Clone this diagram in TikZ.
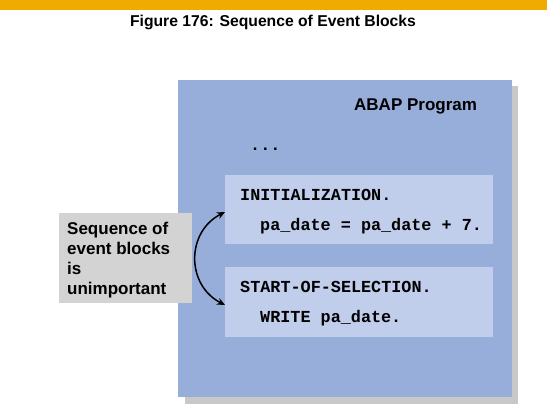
\documentclass[tikz,border=0pt]{standalone}
\usepackage{fontspec}
\setmainfont{Liberation Sans}
\newfontfamily\codefont{Liberation Mono}
\usetikzlibrary{arrows.meta}
\definecolor{sapbar}{RGB}{240,171,0}
\definecolor{progblue}{RGB}{151,173,218}
\definecolor{blocklight}{RGB}{192,205,235}
\definecolor{shadowgray}{RGB}{200,200,200}
\definecolor{notegray}{RGB}{211,211,211}
\tikzset{
  codetxt/.style={anchor=base west, inner sep=0pt, font=\codefont\bfseries\fontsize{16.8}{20}\selectfont},
  sanstxt/.style={inner sep=0pt, font=\bfseries\fontsize{17}{20.3}\selectfont},
  blockbox/.style={fill=blocklight, draw=none, inner sep=0pt},
}
\begin{document}
\begin{tikzpicture}[x=1pt,y=-1pt]
\useasboundingbox (0,0) rectangle (547,414);
\fill[white] (0,0) rectangle (547,414);
\fill[sapbar] (0,0) rectangle (547,10);
\node[anchor=base, inner sep=0pt, font=\bfseries\fontsize{15.7}{18}\selectfont] (title) at (273,27) {Figure 176: Sequence of Event Blocks};
% program box with shadow
\fill[shadowgray] (185,86) rectangle (518,404);
\node[fill=progblue, minimum width=334pt, minimum height=317pt, inner sep=0pt, anchor=north west] (prog) at (178,80) {};
\node[sanstxt, anchor=base west] (ptitle) at (354,111) {ABAP Program};
\node[codetxt] (dots) at (250,151) {...};
% blocks
\node[blockbox, minimum width=268pt, minimum height=69pt, anchor=north west] (b1) at (225,175) {};
\node[blockbox, minimum width=268pt, minimum height=70pt, anchor=north west] (b2) at (225,267) {};
\node[codetxt] (init) at (240,201) {INITIALIZATION.};
\node[codetxt] (calc) at (260,231) {pa\_date = pa\_date + 7.};
\node[codetxt] (sos) at (240,293) {START-OF-SELECTION.};
\node[codetxt] (wr) at (260,323) {WRITE pa\_date.};
% note
\node[fill=notegray, minimum width=133pt, minimum height=90pt, inner sep=0pt, anchor=north west] (note) at (59,213) {};
\node[sanstxt, anchor=base west, align=left] (notetxt) at (67,295) {Sequence of\\event blocks\\is\\unimportant};
% arrow
\coordinate (atop) at (225,212);
\coordinate (abot) at (225,305);
\draw[line width=1.5pt, {Stealth[length=8pt,width=7pt]}-{Stealth[length=8pt,width=7pt]}] (atop) .. controls (186,232) and (186,285) .. (abot);
\end{tikzpicture}
\end{document}
